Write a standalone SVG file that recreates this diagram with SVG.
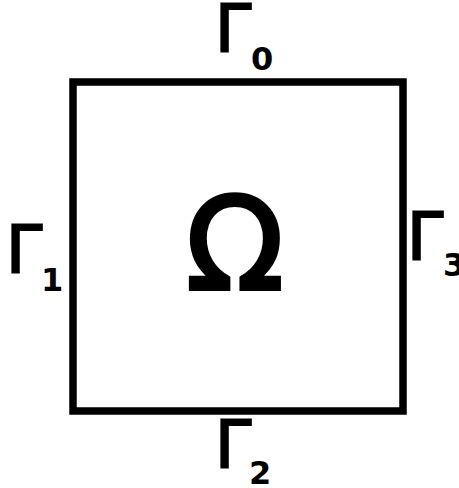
<svg xmlns="http://www.w3.org/2000/svg" width="459" height="488" viewBox="0 0 459 488">
<style>
.g{font-family:"DejaVu Sans",sans-serif;font-size:65px;fill:#000;stroke:#000;stroke-width:2}
.s{font-family:"DejaVu Sans",sans-serif;font-weight:bold;font-size:32px;fill:#000}
.o{font-family:"DejaVu Sans",sans-serif;font-size:128px;fill:#000;stroke:#000;stroke-width:4}
</style>
<rect width="459" height="488" fill="#fff"/>
<g id="domain"><rect x="73" y="82" width="330" height="329" fill="none" stroke="#000" stroke-width="7.5"/></g>
<g id="omega"><text class="o" x="235" y="289" text-anchor="middle">Ω</text></g>
<g id="gamma0"><text class="g" x="215" y="52">Γ</text><text class="s" x="251" y="70">0</text></g>
<g id="gamma1"><text class="g" x="6" y="273">Γ</text><text class="s" x="41" y="291">1</text></g>
<g id="gamma2"><text class="g" x="215" y="468">Γ</text><text class="s" x="249" y="484">2</text></g>
<g id="gamma3"><text class="g" x="407" y="260">Γ</text><text class="s" x="443" y="276">3</text></g>
<g id="connectors"></g>
</svg>
